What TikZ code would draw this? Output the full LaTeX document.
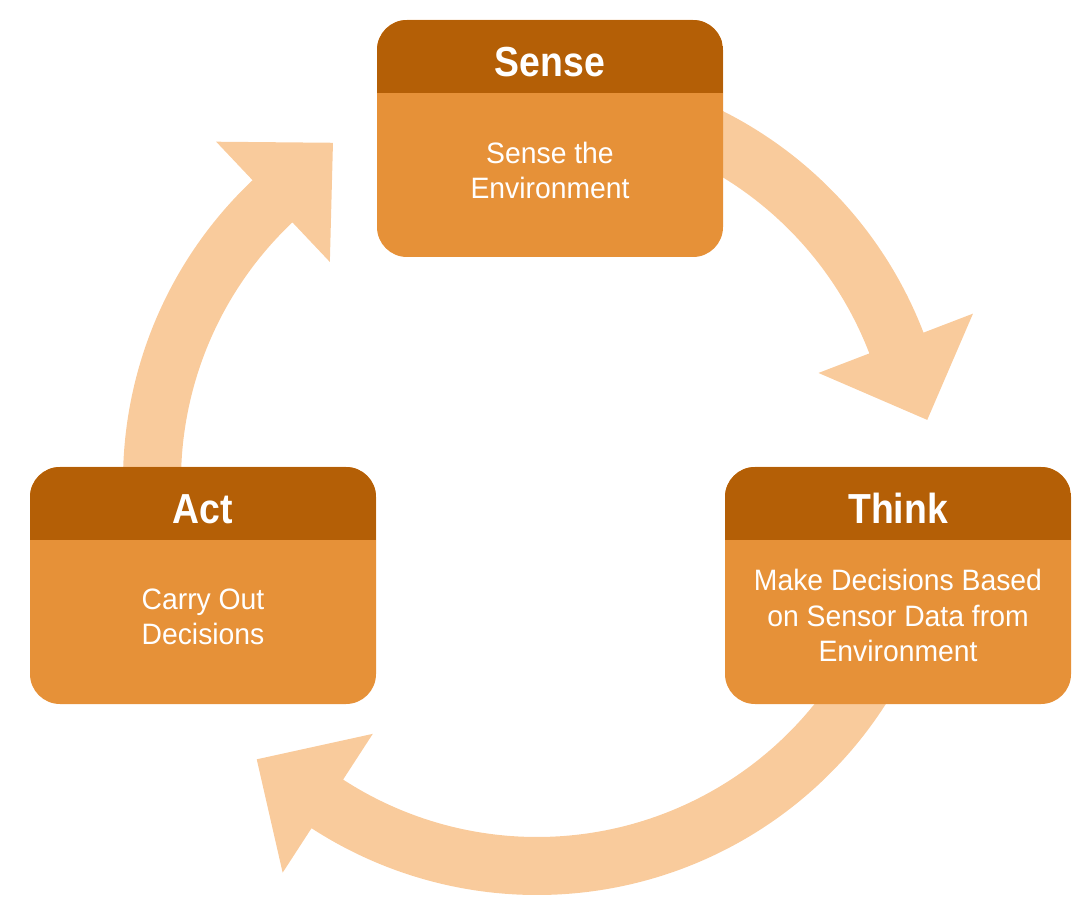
\documentclass[tikz,border=0pt]{standalone}
\usepackage{fontspec}
\setmainfont{Liberation Sans}[FakeStretch=0.96]
\newfontfamily\headfont{Liberation Sans}[FakeStretch=0.89]
\usetikzlibrary{backgrounds}
\definecolor{headcol}{HTML}{B45F06}
\definecolor{bodycol}{HTML}{E69138}
\definecolor{arrowcol}{HTML}{F9CB9C}
\begin{document}
\begin{tikzpicture}[x=1pt,y=1pt,
  card/.style={minimum width=346pt, minimum height=237pt, inner sep=0pt,
    rounded corners=30pt, fill=bodycol,
    path picture={\fill[headcol, sharp corners] (path picture bounding box.north west)
      rectangle ([yshift=-73pt]path picture bounding box.north east);}},
  title/.style={text=white, font=\headfont\bfseries\fontsize{42}{48}\selectfont,
    anchor=base, inner sep=0pt},
  body/.style={text=white, font=\fontsize{29.5}{35.5}\selectfont,
    align=center, anchor=base, inner sep=0pt},
  cyclearrow/.style={fill=arrowcol}]
\useasboundingbox (0,0) rectangle (1089,922);
\coordinate (c) at (537,441);

\node[card] (sense) at (550,783.5) {};
\node[card] (think) at (898,336.5) {};
\node[card] (act)   at (203,336.5) {};

\node[title] (senseT) at ([yshift=-57pt]sense.north) {Sense};
\node[title] (thinkT) at ([yshift=-57pt]think.north) {Think};
\node[title] (actT)   at ([yshift=-57pt]act.north) {Act};

\node[body] (senseB) at ([yshift=-179pt]sense.north) {Sense the\\Environment};
\node[body] (thinkB) at ([yshift=-195pt]think.north) {Make Decisions Based\\on Sensor Data from\\Environment};
\node[body] (actB)   at ([yshift=-178pt]act.north) {Carry Out\\Decisions};

\begin{scope}[on background layer, shift={(c)}]
  % Sense -> Think
  \fill[cyclearrow] (80:414) arc[start angle=80, end angle=21, radius=414pt]
    -- (21:467) -- (8.9:395) -- (21:301.5) -- (21:356)
    arc[start angle=21, end angle=80, radius=356pt] -- cycle;
  % Think -> Act
  \fill[cyclearrow] (-25:414) arc[start angle=-25, end angle=-123, radius=414pt]
    -- (-123:467) -- (-135.2:395) -- (-123:301.5) -- (-123:356)
    arc[start angle=-123, end angle=-25, radius=356pt] -- cycle;
  % Act -> Sense
  \fill[cyclearrow] (190:414) arc[start angle=190, end angle=133.4, radius=414pt]
    -- (133.4:467) -- (121.1:395) -- (133.4:301.5) -- (133.4:356)
    arc[start angle=133.4, end angle=190, radius=356pt] -- cycle;
\end{scope}
\end{tikzpicture}
\end{document}
